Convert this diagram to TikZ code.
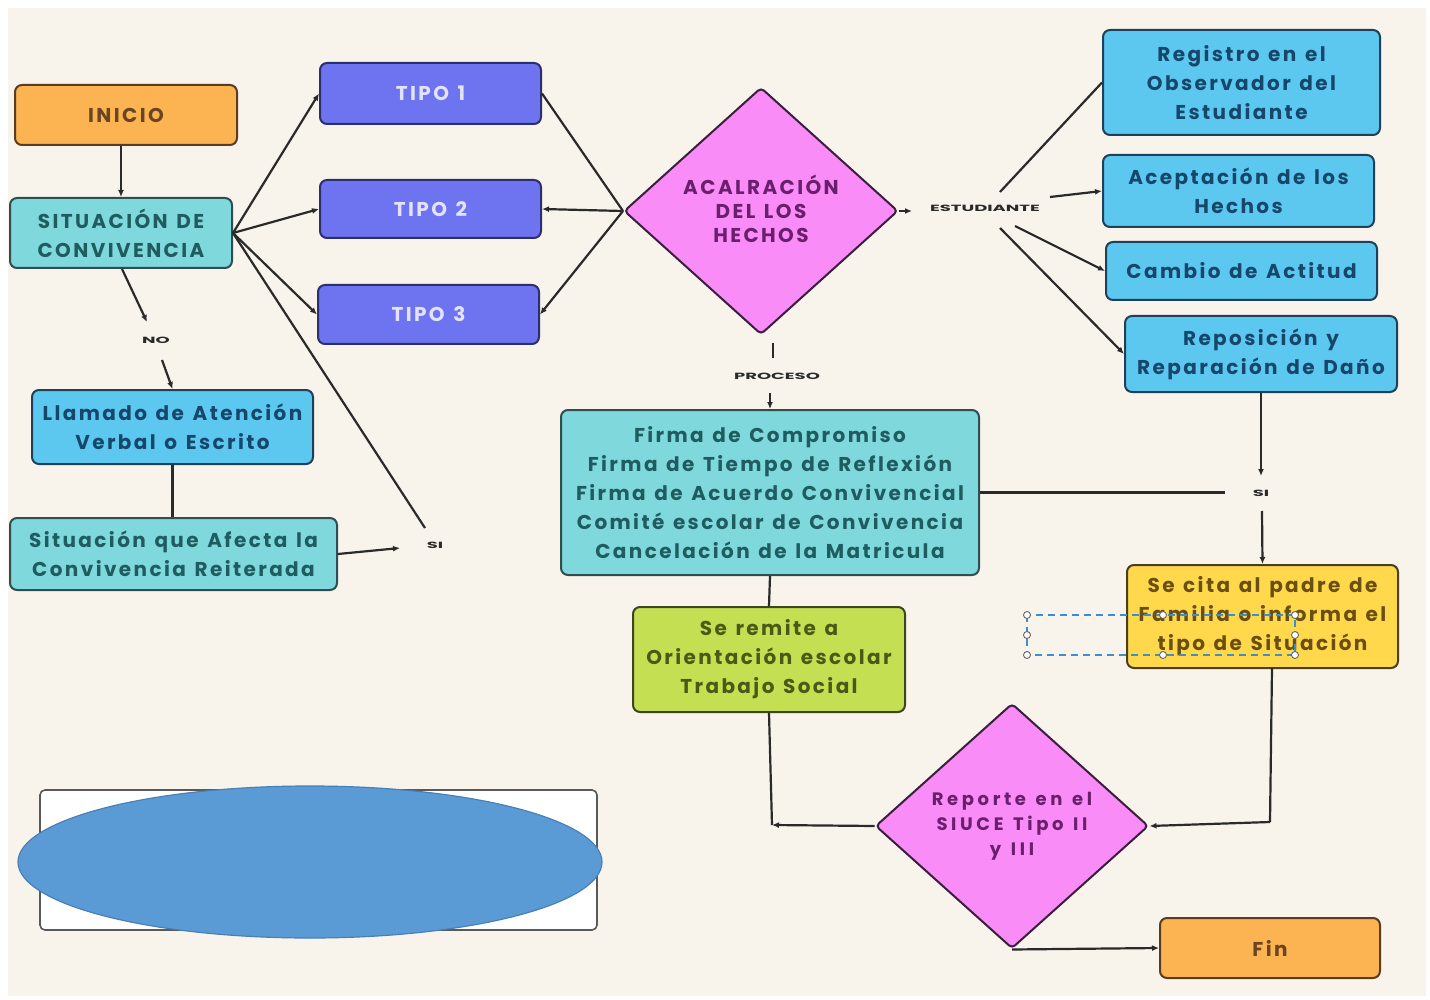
\documentclass[tikz,border=0pt]{standalone}
\usepackage{fontspec}
\setmainfont{Poppins}
\newfontfamily\widefam{Poppins}[LetterSpace=12, WordSpace=1.3]
\newfontfamily\widerfam{Poppins}[LetterSpace=20, WordSpace=1.3]
\usetikzlibrary{shapes.geometric,arrows.meta}
\definecolor{bg}{HTML}{F8F4EC}
\definecolor{edge}{HTML}{34383A}
\definecolor{linec}{HTML}{2A2A2A}
\definecolor{orangeF}{HTML}{FBB451}
\definecolor{orangeE}{HTML}{5A3C20}
\definecolor{orangeT}{HTML}{6B4422}
\definecolor{tealF}{HTML}{7FD8DC}
\definecolor{tealT}{HTML}{1F5C60}
\definecolor{tealE}{HTML}{2E4E52}
\definecolor{periF}{HTML}{6E74F0}
\definecolor{periT}{HTML}{E2E4FF}
\definecolor{periE}{HTML}{2C2F6E}
\definecolor{magF}{HTML}{F98CF6}
\definecolor{magT}{HTML}{6A1E6E}
\definecolor{magE}{HTML}{3A1E3E}
\definecolor{skyF}{HTML}{5CC8F0}
\definecolor{skyT}{HTML}{16466A}
\definecolor{skyE}{HTML}{1F4058}
\definecolor{yelF}{HTML}{FFD84C}
\definecolor{yelT}{HTML}{6A4E12}
\definecolor{yelE}{HTML}{4A3E20}
\definecolor{grnF}{HTML}{C4DF52}
\definecolor{grnT}{HTML}{4A5A16}
\definecolor{grnE}{HTML}{3C4620}
\definecolor{selB}{HTML}{3A8FD0}
\definecolor{ellF}{HTML}{5B9BD5}
\definecolor{ellE}{HTML}{4A7FB5}
\newcommand\boxfont{\widefam\fontsize{20}{29}\selectfont\bfseries}
\newcommand\dafont{\widefam\fontsize{20}{24}\selectfont\bfseries}
\newcommand\dfont{\widerfam\fontsize{18}{25}\selectfont\bfseries}
\newcommand\labtext[1]{\scalebox{2}[1]{\fontsize{9}{10}\selectfont\bfseries #1}}
\begin{document}
\begin{tikzpicture}[x=1pt,y=-1pt,
  box/.style={rectangle, rounded corners=7pt, line width=2pt, inner sep=0pt, align=center, font=\boxfont},
  obox/.style={box, draw=orangeE, fill=orangeF, text=orangeT},
  tbox/.style={box, draw=tealE, fill=tealF, text=tealT},
  pbox/.style={box, draw=periE, fill=periF, text=periT},
  sbox/.style={box, draw=skyE, fill=skyF, text=skyT},
  ybox/.style={box, draw=yelE, fill=yelF, text=yelT},
  gbox/.style={box, draw=grnE, fill=grnF, text=grnT},
  dmd/.style={diamond, rounded corners=4pt, draw=magE, fill=magF, text=magT, line width=2pt, inner sep=0pt, align=center},
  lab/.style={inner sep=1pt, text=linec},
  conn/.style={line width=2.2pt, draw=linec},
  arr/.style={conn, -{Latex[length=7pt,width=6pt]}},
  handle/.style={circle, draw=gray!80!black, fill=white, line width=0.9pt, minimum size=7pt, inner sep=0pt}
]
% background
\fill[white] (0,0) rectangle (1430,1000);
\fill[bg] (8,8) rectangle (1426,996);
\useasboundingbox (0,0) rectangle (1430,1000);

% nodes
\node[obox, minimum width=222pt, minimum height=60pt] (inicio) at (126,115) {INICIO};
\node[tbox, minimum width=222pt, minimum height=70pt] (sit) at (121,233) {SITUACIÓN DE\\CONVIVENCIA};
\node[pbox, minimum width=221pt, minimum height=61pt] (t1) at (430.5,93.5) {TIPO 1};
\node[pbox, minimum width=221pt, minimum height=58pt] (t2) at (430.5,209) {TIPO 2};
\node[pbox, minimum width=221pt, minimum height=59pt] (t3) at (428.5,314.5) {TIPO 3};
\node[dmd, minimum width=274pt, minimum height=247pt] (d1) at (761,211) {};
\node[text=magT, font=\dafont, align=center, inner sep=0pt] (d1t) at (761,209) {ACALRACIÓN\\DEL LOS\\HECHOS};
\node[sbox, minimum width=277pt, minimum height=105pt] (reg) at (1241.5,82.5) {Registro en el\\Observador del\\Estudiante};
\node[sbox, minimum width=271pt, minimum height=72pt] (acep) at (1238.5,191) {Aceptación de los\\Hechos};
\node[sbox, minimum width=271pt, minimum height=58pt] (camb) at (1241.5,271) {Cambio de Actitud};
\node[sbox, minimum width=272pt, minimum height=76pt] (repo) at (1261,354) {Reposición y\\Reparación de Daño};
\node[tbox, minimum width=418pt, minimum height=165pt] (firma) at (770,492.5) {Firma de Compromiso\\Firma de Tiempo de Reflexión\\Firma de Acuerdo Convivencial\\Comité escolar de Convivencia\\Cancelación de la Matricula};
\node[ybox, minimum width=271pt, minimum height=103pt] (yel) at (1262.5,616.5) {Se cita al padre de\\Familia o informa el\\tipo de Situación};
\node[gbox, minimum width=272pt, minimum height=105pt] (grn) at (769,659.5) {Se remite a\\Orientación escolar\\Trabajo Social};
\node[dmd, minimum width=273pt, minimum height=245pt] (d2) at (1012,826) {};
\node[text=magT, font=\dfont, align=center, inner sep=0pt] (d2t) at (1012,826) {Reporte en el\\SIUCE Tipo II\\y III};
\node[obox, minimum width=220pt, minimum height=60pt] (fin) at (1270,948) {Fin};
\node[sbox, minimum width=281pt, minimum height=74pt] (llam) at (172.5,427) {Llamado de Atención\\Verbal o Escrito};
\node[tbox, minimum width=327pt, minimum height=72pt] (afe) at (173.5,554) {Situación que Afecta la\\Convivencia Reiterada};

% labels
\node[lab] (no) at (156,340) {\labtext{NO}};
\node[lab] (si1) at (435,545) {\labtext{SI}};
\node[lab] (est) at (985,208) {\labtext{ESTUDIANTE}};
\node[lab] (proc) at (777,376) {\labtext{PROCESO}};
\node[lab] (si2) at (1261,493) {\labtext{SI}};

% coordinates
\coordinate (noA) at (147,322);
\coordinate (noB) at (162,360);
\coordinate (si1A) at (425,528);
\coordinate (si1B) at (400,548);
\coordinate (estA) at (912,211);
\coordinate (e1) at (1000,192);
\coordinate (e2) at (1050,197);
\coordinate (e3) at (1015,226);
\coordinate (e4) at (1000,228);
\coordinate (pA) at (773,343);
\coordinate (pB) at (773,358);
\coordinate (pC) at (770,393);
\coordinate (s2L) at (1225,492.5);
\coordinate (s2T) at (1261,476);
\coordinate (s2B) at (1262,511);
\coordinate (j1) at (772,825);
\coordinate (yB) at (1272,668);
\coordinate (j2) at (1270,822);

% connectors
\draw[arr] (sit.north |- inicio.south) -- (sit.north);
\draw[arr] (sit.east) -- (t1.west);
\draw[arr] (sit.east) -- (t2.west);
\draw[arr] (sit.east) -- (t3.west);
\draw[conn] (sit.east) -- (si1A);
\draw[arr] ([xshift=1pt]sit.south) -- (noA);
\draw[arr] (noB) -- (llam.north);
\draw[conn] (llam.south) -- (afe.north -| llam.south);
\draw[arr] (afe.east) -- (si1B);
\draw[conn] (t1.east) -- (d1.west);
\draw[arr] (d1.west) -- (t2.east);
\draw[arr] (d1.west) -- (t3.east);
\draw[arr] (d1.east) -- (estA);
\draw[conn] (e1) -- (reg.west);
\draw[arr] (e2) -- (acep.west);
\draw[arr] (e3) -- (camb.west);
\draw[arr] (e4) -- (repo.west);
\draw[conn] (pA) -- (pB);
\draw[arr] (pC) -- (firma.north);
\draw[conn] (firma.east) -- (s2L);
\draw[arr] (repo.south) -- (s2T);
\draw[arr] (s2B) -- (yel.north);
\draw[conn] (firma.south) -- (grn.north);
\draw[conn] (grn.south) -- (j1);
\draw[arr] (d2.west) -- (j1);
\draw[conn] (yB) -- (j2);
\draw[arr] (j2) -- (d2.east);
\draw[arr] (d2.south) -- (fin.west);

% selection frame
\draw[selB, line width=1.6pt, dash pattern=on 7pt off 5pt] (1027,615) rectangle (1295,655);
\foreach \hx/\hy [count=\i] in {1027/615,1027/635,1027/655,1163/615,1163/655,1295/615,1295/635,1295/655}
  \node[handle] (h\i) at (\hx,\hy) {};

% bottom-left shapes
\node[rectangle, rounded corners=5pt, draw=gray!70!black, fill=white, line width=1.6pt, minimum width=557pt, minimum height=140pt, inner sep=0pt] (wrect) at (318.5,860) {};
\node[ellipse, draw=ellE, fill=ellF, line width=1.2pt, minimum width=584pt, minimum height=152pt, inner sep=0pt] (ell) at (310,862) {};
\end{tikzpicture}
\end{document}
